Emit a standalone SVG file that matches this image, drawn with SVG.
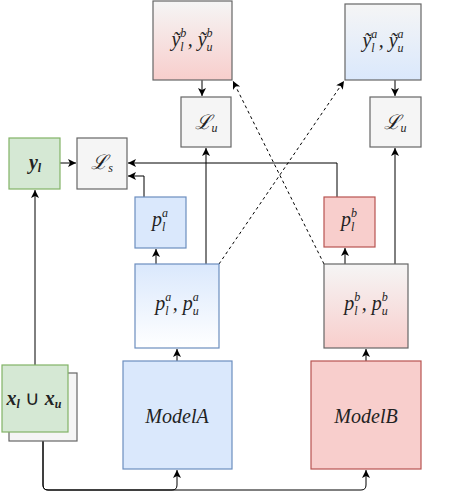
<svg xmlns="http://www.w3.org/2000/svg" width="457" height="500" viewBox="0 0 457 500">
<style>
.m{font-family:"Liberation Serif","Times New Roman",serif;font-style:italic;font-size:20px;fill:#222;text-anchor:middle}
.s{font-size:12px}
.L{font-family:"DejaVu Serif","Liberation Serif",serif;font-style:italic}
.b{font-weight:bold}
.gray{fill:#f5f5f5;stroke:#666;stroke-width:1.2}
.blue{fill:#dae8fc;stroke:#6c8ebf;stroke-width:1.2}
.red{fill:#f8cecc;stroke:#b85450;stroke-width:1.2}
.green{fill:#d5e8d4;stroke:#82b366;stroke-width:1.2}
.e{fill:none;stroke:#000;stroke-width:1;marker-end:url(#ah)}
.d{stroke-dasharray:3 3}
</style>
<defs>
<marker id="ah" markerUnits="userSpaceOnUse" markerWidth="10" markerHeight="10" refX="8" refY="4" orient="auto">
<path d="M0,0 L8,4 L0,8 L2,4 z" fill="#000"/>
</marker>
<linearGradient id="gRed" x1="0" y1="0" x2="0" y2="1"><stop offset="0" stop-color="#f5f5f5"/><stop offset="1" stop-color="#f8cecc"/></linearGradient>
<linearGradient id="gBlue" x1="0" y1="0" x2="0" y2="1"><stop offset="0" stop-color="#f5f5f5"/><stop offset="1" stop-color="#dae8fc"/></linearGradient>
<linearGradient id="gBlueW" x1="0" y1="0" x2="0" y2="1"><stop offset="0" stop-color="#dae8fc"/><stop offset="1" stop-color="#ffffff"/></linearGradient>
</defs>

<g id="connectors">
<path class="e" d="M202,80 L202,96"/>
<path class="e" d="M395,80 L395,96"/>
<path class="e" d="M206,264 L206,148"/>
<path class="e" d="M395,264 L395,148"/>
<path class="e" d="M60,163 L76,163"/>
<path class="e" d="M337,197 L337,163 L128,163"/>
<path class="e" d="M144,197 L144,176 L128,176"/>
<path class="e" d="M156,264 L156,249"/>
<path class="e" d="M345,264 L345,248"/>
<path class="e" d="M177,361 L177,349"/>
<path class="e" d="M366,361 L366,349"/>
<path class="e" d="M35,365 L35,190"/>
<path class="e" d="M43,441 L43,485 Q43,490 48,490 L172,490 Q177,490 177,485 L177,470"/>
<path class="e" d="M43,441 L43,485 Q43,490 48,490 L361,490 Q366,490 366,485 L366,470"/>
<path class="e d" d="M219,264 L344,81"/>
<path class="e d" d="M324,264 L233,81"/>
</g>

<g id="yb">
<rect x="153" y="1" width="79" height="79" fill="url(#gRed)" stroke="#666" stroke-width="1.2"/>
<text class="m" x="192" y="46">ỹ<tspan class="s" dy="-9">b</tspan><tspan class="s" dx="-6" dy="14">l</tspan><tspan dy="-5" dx="4">, ỹ</tspan><tspan class="s" dy="-9">b</tspan><tspan class="s" dx="-6" dy="14">u</tspan></text>
</g>
<g id="ya">
<rect x="345" y="4" width="76" height="76" fill="url(#gBlue)" stroke="#666" stroke-width="1.2"/>
<text class="m" x="383" y="47">ỹ<tspan class="s" dy="-9">a</tspan><tspan class="s" dx="-6" dy="14">l</tspan><tspan dy="-5" dx="4">, ỹ</tspan><tspan class="s" dy="-9">a</tspan><tspan class="s" dx="-6" dy="14">u</tspan></text>
</g>
<g id="Lu1">
<rect class="gray" x="181" y="97" width="50" height="50"/>
<text class="m" x="206" y="129"><tspan class="L">ℒ</tspan><tspan class="s" dy="3">u</tspan></text>
</g>
<g id="Lu2">
<rect class="gray" x="370" y="97" width="51" height="50"/>
<text class="m" x="395" y="129"><tspan class="L">ℒ</tspan><tspan class="s" dy="3">u</tspan></text>
</g>
<g id="yl">
<rect class="green" x="9" y="138" width="51" height="51"/>
<text class="m b" x="35" y="169">y<tspan class="s" dy="3">l</tspan></text>
</g>
<g id="Ls">
<rect class="gray" x="77" y="138" width="50" height="51"/>
<text class="m" x="102" y="169"><tspan class="L">ℒ</tspan><tspan class="s" dy="3">s</tspan></text>
</g>
<g id="pla">
<rect class="blue" x="135" y="197" width="51" height="51"/>
<text class="m" x="160" y="226">p<tspan class="s" dy="-9">a</tspan><tspan class="s" dx="-6" dy="14">l</tspan></text>
</g>
<g id="plb">
<rect class="red" x="324" y="197" width="51" height="50"/>
<text class="m" x="349" y="226">p<tspan class="s" dy="-9">b</tspan><tspan class="s" dx="-6" dy="14">l</tspan></text>
</g>
<g id="pa">
<rect x="135" y="264" width="84" height="84" fill="url(#gBlueW)" stroke="#6c8ebf" stroke-width="1.2"/>
<text class="m" x="177" y="310">p<tspan class="s" dy="-9">a</tspan><tspan class="s" dx="-6" dy="14">l</tspan><tspan dy="-5" dx="4">, p</tspan><tspan class="s" dy="-9">a</tspan><tspan class="s" dx="-6" dy="14">u</tspan></text>
</g>
<g id="pb">
<rect x="324" y="264" width="84" height="84" fill="url(#gRed)" stroke="#666" stroke-width="1.2"/>
<text class="m" x="366" y="310">p<tspan class="s" dy="-9">b</tspan><tspan class="s" dx="-6" dy="14">l</tspan><tspan dy="-5" dx="4">, p</tspan><tspan class="s" dy="-9">b</tspan><tspan class="s" dx="-6" dy="14">u</tspan></text>
</g>
<g id="x">
<rect class="gray" x="9" y="373" width="68" height="68"/>
<rect class="green" x="2" y="365" width="66" height="67"/>
<text class="m b" x="34" y="405">x<tspan class="s" dy="3">l</tspan><tspan dy="-3" font-weight="normal" font-style="normal"> ∪ </tspan>x<tspan class="s" dy="3">u</tspan></text>
</g>
<g id="modelA">
<rect class="blue" x="123" y="361" width="109" height="108"/>
<text class="m" x="177" y="423" font-size="24">ModelA</text>
</g>
<g id="modelB">
<rect class="red" x="311" y="361" width="110" height="108"/>
<text class="m" x="366" y="423" font-size="24">ModelB</text>
</g>
</svg>
